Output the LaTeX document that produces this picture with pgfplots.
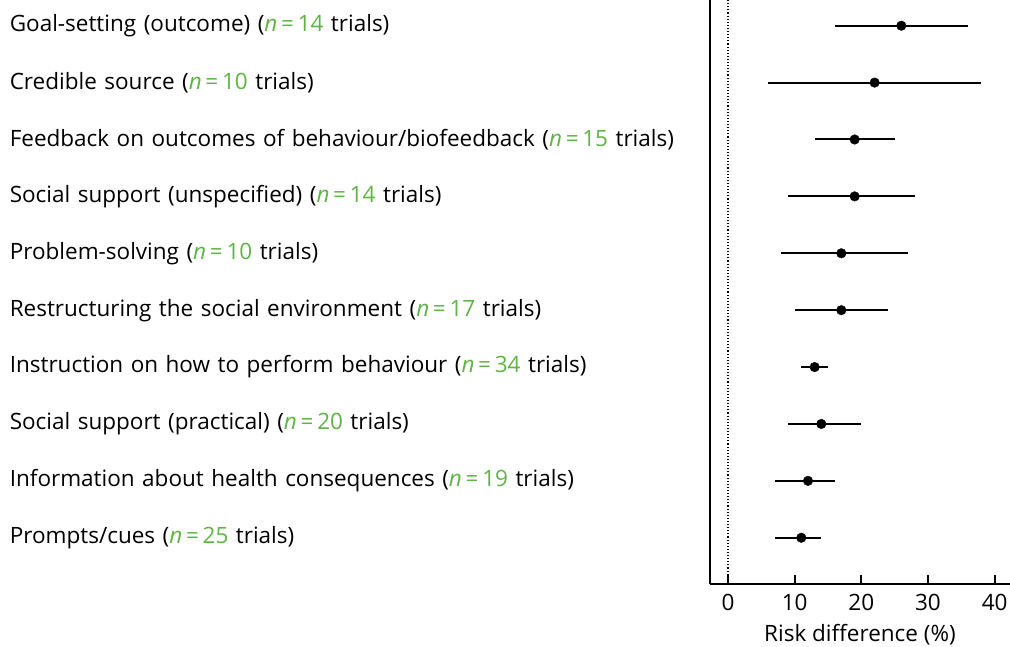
\documentclass[border=0pt]{standalone}
\usepackage{pgfplots}
\pgfplotsset{compat=1.18}
\usepackage{pgfplotstable}
\usepackage{fontspec}
\setmainfont{Open Sans}
\definecolor{nGreen}{RGB}{95,180,70}
\newcommand{\nn}[1]{{\color{nGreen}\textit{n}\,=\,#1}}
\pgfplotstableread{
y est lo hi
10 26 16 36
9 22 6 38
8 19 13 25
7 19 9 28
6 17 8 27
5 17 10 24
4 13 11 15
3 14 9 20
2 12 7 16
1 11 7 14
}\rdtab
\begin{document}
\begin{tikzpicture}[x=1pt,y=1pt]
\begin{axis}[
  name=ax,
  scale only axis,
  width=300pt, height=584pt,
  xmin=-2.7, xmax=42.3,
  ymin=0.187, ymax=10.452,
  axis x line=bottom, axis y line=left,
  axis line style={-, line width=1.8pt},
  xtick={0,10,20,30,40},
  xtick style={line width=1.8pt, black},
  tick align=inside,
  major tick length=9pt,
  ytick={10,9,8,7,6,5,4,3,2,1},
  yticklabels={
    Goal-setting (outcome) (\nn{14} trials),
    Credible source (\nn{10} trials),
    Feedback on outcomes of behaviour/biofeedback (\nn{15} trials),
    Social support (unspecified) (\nn{14} trials),
    Problem-solving (\nn{10} trials),
    Restructuring the social environment (\nn{17} trials),
    Instruction on how to perform behaviour (\nn{34} trials),
    Social support (practical) (\nn{20} trials),
    Information about health consequences (\nn{19} trials),
    Prompts/cues (\nn{25} trials)},
  ytick style={draw=none},
  yticklabel style={anchor=east, text width=690pt, align=left, inner sep=0pt, xshift=-10pt},
  ticklabel style={font=\fontsize{22.5}{27}\selectfont},
  xticklabel style={/pgf/number format/assume math mode=true, yshift=-7pt},
  xlabel={Risk difference (\%)},
  xlabel style={font=\fontsize{22.5}{27}\selectfont, yshift=-6pt},
  clip=false,
]
\addplot[black, dotted, line width=1.1pt] coordinates {(0,0.187) (0,10.452)};
\addplot[only marks, mark=*, mark size=4.8pt, black,
  error bars/.cd, x dir=both, x explicit, error mark=none,
  error bar style={line width=2pt, black}]
  table[x=est, y=y,
    x error plus expr=\thisrow{hi}-\thisrow{est},
    x error minus expr=\thisrow{est}-\thisrow{lo}] {\rdtab};
\end{axis}
\pgfresetboundingbox
\path (ax.south west) ++(-710pt,-62pt) rectangle ++(1010pt,646pt);
\end{tikzpicture}
\end{document}
